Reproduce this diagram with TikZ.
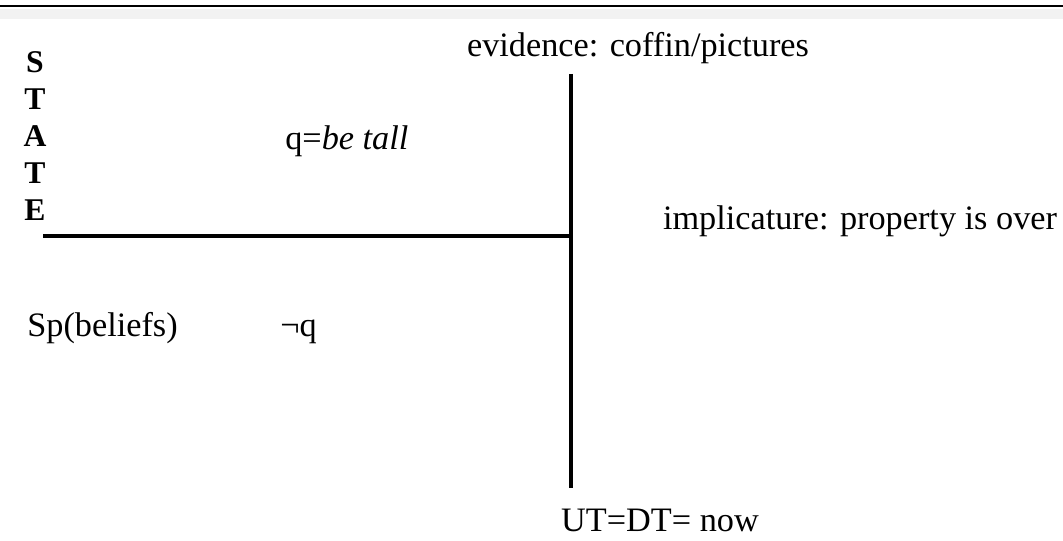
\documentclass[tikz,border=0pt]{standalone}
\usepackage{fontspec}
\setmainfont{Liberation Serif}
\begin{document}
\begin{tikzpicture}[every node/.style={font=\fontsize{19.5}{23}\selectfont,inner sep=0pt},
  lbl/.style={anchor=base}, lblw/.style={anchor=base west},
  bar/.style={line width=2pt,black}]
\useasboundingbox (0,0) rectangle (21.26,10.82);
\fill[black!5] (0,10.44) rectangle (21.26,10.64);
\draw[line width=1.1pt] (0,10.70) -- (21.26,10.70);
\coordinate (top) at (11.42,9.34);
\coordinate (bottom) at (11.42,1.06);
\coordinate (left) at (0.86,6.10);
\coordinate (cross) at (11.42,6.10);
\draw[bar] (left) -- (cross);
\draw[bar] (top) -- (bottom);
\foreach \l [count=\i] in {S,T,A,T,E}
  \node[lbl,font=\fontsize{18}{22}\selectfont\bfseries] (st\i) at (0.70,{9.36-0.74*(\i-1)}) {\l};
\node[lbl] (evid) at (12.76,9.68) {evidence: coffin/pictures};
\node[lbl] (impl) at (17.20,6.22) {implicature: property is over};
\node[lblw] (prop) at (5.70,7.82) {q=\textit{be tall}};
\node[lblw] (sp) at (0.54,4.08) {Sp(beliefs)};
\node[lblw] (negq) at (5.60,4.08) {¬q};
\node[lbl] (ut) at (13.20,0.18) {UT=DT= now};
\end{tikzpicture}
\end{document}
